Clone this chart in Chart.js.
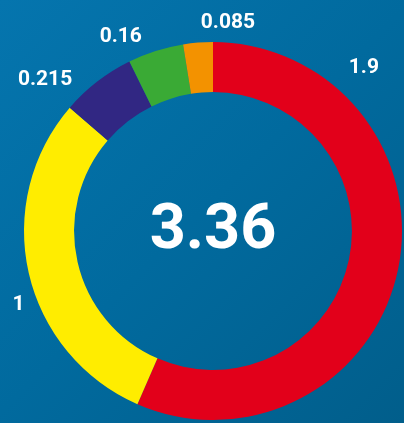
<!DOCTYPE html>
<html>
<head>
<meta charset="utf-8">
<script src="https://cdn.jsdelivr.net/npm/chart.js@4/dist/chart.umd.min.js"></script>
<style>
  html, body { margin: 0; padding: 0; }
  body {
    width: 404px; height: 423px; overflow: hidden;
    background: linear-gradient(135deg, #0575ae 0%, #016a9e 50%, #015e8b 100%);
  }
  #wrap { position: relative; width: 404px; height: 423px; }
</style>
</head>
<body>
<div id="wrap"><canvas id="chart"></canvas></div>
<script>
const parties = ['A', 'B', 'C', 'D', 'E'];
const seats = [1.9, 1, 0.215, 0.16, 0.085];
const valueLabels = ['1.9', '1', '0.215', '0.16', '0.085'];
const totalLabel = '3.36';
const colours = ['#e2001a', '#ffed00', '#312783', '#3aaa35', '#f39200'];

// where each outside label sits: angle (deg, clockwise from top) and distance from centre
const labelSpots = [[42.8, 222], [-110.8, 208], [-48, 226], [-25.4, 215], [4.1, 209]];

const outsideLabels = {
    id: 'outsideLabels',
    afterDraw(chart) {
        const ctx = chart.ctx;
        const arcs = chart.getDatasetMeta(0).data;
        const cx = arcs[0].x, cy = arcs[0].y;
        ctx.save();
        ctx.fillStyle = '#ffffff';
        ctx.textAlign = 'center';
        ctx.textBaseline = 'middle';
        ctx.font = 'bold 21px Roboto';
        arcs.forEach((arc, i) => {
            const [deg, dist] = labelSpots[i];
            const a = deg * Math.PI / 180;
            ctx.fillText(valueLabels[i], cx + dist * Math.sin(a), cy - dist * Math.cos(a));
        });
        ctx.font = 'bold 63px Roboto';
        ctx.fillText(totalLabel, cx, cy + 1);
        ctx.restore();
    }
};

new Chart(document.getElementById('chart').getContext('2d'), {
    type: 'doughnut',
    data: {
        labels: parties,
        datasets: [{
            data: seats,
            backgroundColor: colours,
            borderWidth: 0,
            hoverOffset: 0
        }]
    },
    options: {
        responsive: true,
        maintainAspectRatio: false,
        animation: false,
        cutout: '73.5%',
        layout: { padding: { top: 42, bottom: 3, left: 24, right: 2 } },
        plugins: {
            legend: { display: false },
            tooltip: { enabled: false }
        }
    },
    plugins: [outsideLabels]
});
</script>
</body>
</html>
